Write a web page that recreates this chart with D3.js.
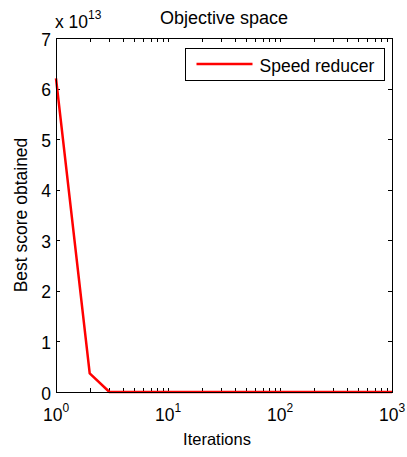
<!DOCTYPE html>
<html>
<head>
<meta charset="utf-8">
<script src="https://cdn.jsdelivr.net/npm/d3@7"></script>
<style>
  body { margin: 0; background: #fff; }
  svg { font-family: "Liberation Sans", Arial, sans-serif; }
</style>
</head>
<body>
<script>
const width = 407;
const height = 457;
const margin = { left: 56, right: 15, top: 38, bottom: 65 };

// convergence curve
const iterations = [1, 2, 3, 4, 5, 10, 20, 50, 100, 200, 500, 1000];
const bestScore = [6.2e13, 0.37e13, 3.1e3, 3.0e3, 3.0e3, 3.0e3, 2.99e3, 2.99e3, 2.99e3, 2.99e3, 2.99e3, 2.99e3];
const yTicks = [0, 1, 2, 3, 4, 5, 6, 7];
const xMajor = [1, 10, 100, 1000];
const seriesName = "Speed reducer";

const fs = 17.5;

const svg = d3.select("body")
  .append("svg")
  .attr("width", width)
  .attr("height", height);

const x = d3.scaleLog().domain([1, 1000]).range([margin.left, width - margin.right]);
const y = d3.scaleLinear().domain([0, 7e13]).range([height - margin.bottom, margin.top]);

const x0 = margin.left, x1 = width - margin.right;
const y0 = height - margin.bottom, y1 = margin.top;
const tl = 4;

// ticks (inward, on all four sides)
const allX = x.ticks();
const ticks = svg.append("g").attr("stroke", "#000").attr("stroke-width", 1);
allX.forEach(v => {
  const px = Math.round(x(v)) + 0.5;
  ticks.append("line").attr("x1", px).attr("x2", px).attr("y1", y0).attr("y2", y0 - tl);
  ticks.append("line").attr("x1", px).attr("x2", px).attr("y1", y1).attr("y2", y1 + tl);
});
yTicks.forEach(v => {
  const py = Math.round(y(v * 1e13)) + 0.5;
  ticks.append("line").attr("x1", x0).attr("x2", x0 + tl).attr("y1", py).attr("y2", py);
  ticks.append("line").attr("x1", x1).attr("x2", x1 - tl).attr("y1", py).attr("y2", py);
});

// line
const line = d3.line().x((d, i) => x(iterations[i])).y(d => y(d));
svg.append("path")
  .datum(bestScore)
  .attr("fill", "none")
  .attr("stroke", "#ff0000")
  .attr("stroke-width", 2.5)
  .attr("stroke-linejoin", "round")
  .attr("d", line);

// box
svg.append("rect")
  .attr("x", x0 + 0.5).attr("y", y1 + 0.5)
  .attr("width", x1 - x0).attr("height", y0 - y1)
  .attr("fill", "none").attr("stroke", "#000").attr("stroke-width", 1);

// y tick labels
svg.append("g").selectAll("text")
  .data(yTicks)
  .enter()
  .append("text")
  .attr("x", x0 - 5)
  .attr("y", d => y(d * 1e13) + 7.5)
  .attr("text-anchor", "end")
  .attr("font-size", fs)
  .text(d => d);

// x tick labels 10^n
xMajor.forEach(v => {
  const t = svg.append("text")
    .attr("x", x(v))
    .attr("y", y0 + 29)
    .attr("text-anchor", "middle")
    .attr("font-size", fs);
  t.append("tspan").text("10");
  t.append("tspan").attr("dy", -9).attr("font-size", 12).text(Math.round(Math.log10(v)));
});

// exponent label
const ex = svg.append("text").attr("x", x0 - 1).attr("y", 28).attr("font-size", fs);
ex.append("tspan").text("x 10");
ex.append("tspan").attr("dy", -9).attr("font-size", 12).text("13");

// title and axis labels
svg.append("text")
  .attr("x", (x0 + x1) / 2)
  .attr("y", 24)
  .attr("text-anchor", "middle")
  .attr("font-size", 18)
  .text("Objective space");

svg.append("text")
  .attr("x", 217)
  .attr("y", 445)
  .attr("text-anchor", "middle")
  .attr("font-size", 16.5)
  .text("Iterations");

svg.append("text")
  .attr("transform", "translate(27," + ((y0 + y1) / 2) + ") rotate(-90)")
  .attr("text-anchor", "middle")
  .attr("font-size", fs)
  .text("Best score obtained");

// legend
const lg = svg.append("g").attr("transform", "translate(185.5,48.5)");
lg.append("rect").attr("width", 199).attr("height", 32)
  .attr("fill", "#fff").attr("stroke", "#000").attr("stroke-width", 1);
lg.append("line").attr("x1", 11).attr("x2", 67).attr("y1", 15.5).attr("y2", 15.5)
  .attr("stroke", "#ff0000").attr("stroke-width", 2.5);
lg.append("text").attr("x", 74).attr("y", 23).attr("font-size", fs).text(seriesName);
</script>
</body>
</html>
